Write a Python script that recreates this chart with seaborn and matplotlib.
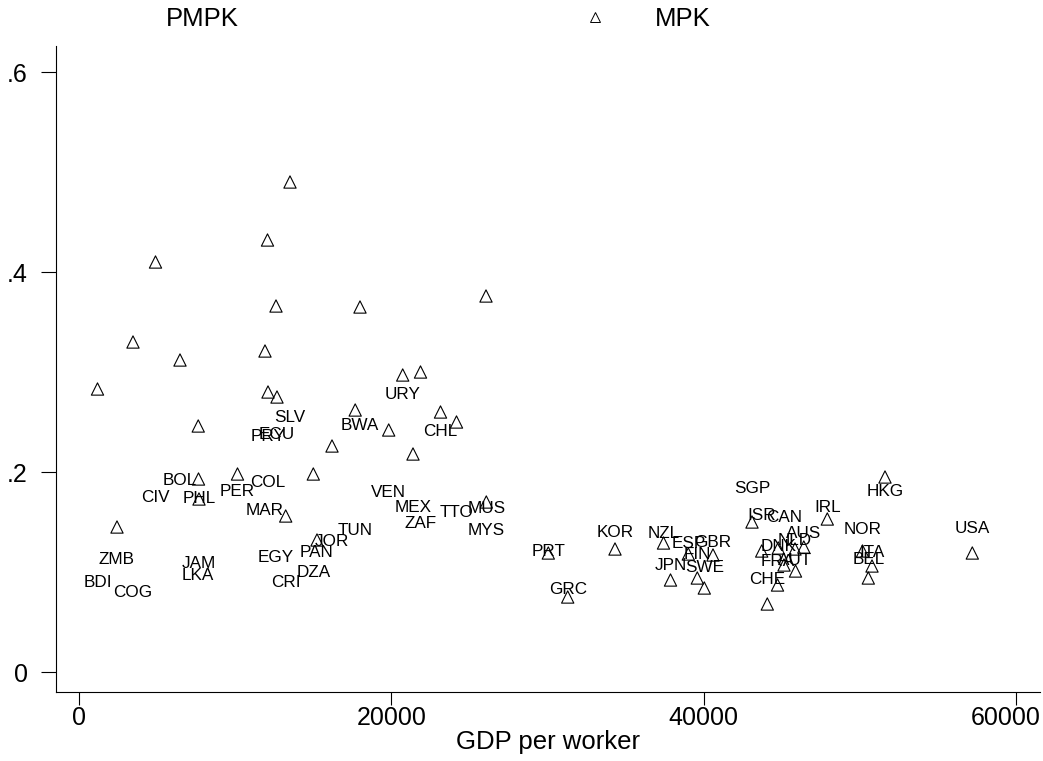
import matplotlib
matplotlib.use("Agg")
import matplotlib.pyplot as plt
from matplotlib.lines import Line2D
from matplotlib.transforms import ScaledTranslation
import seaborn as sns
import pandas as pd

countries = ["BDI", "ZMB", "COG", "CIV", "BOL", "PHL", "JAM", "LKA", "PER", "MAR",
             "COL", "PRY", "EGY", "ECU", "CRI", "SLV", "DZA", "PAN", "JOR", "TUN",
             "BWA", "VEN", "URY", "MEX", "ZAF", "CHL", "TTO", "MUS", "MYS", "PRT",
             "GRC", "KOR", "NZL", "JPN", "ESP", "FIN", "SWE", "GBR", "SGP", "ISR",
             "CHE", "FRA", "DNK", "CAN", "NLD", "AUT", "AUS", "IRL", "NOR", "BEL",
             "ITA", "HKG", "USA"]
gdp_per_worker = [1203, 2451, 3475, 4915, 6483, 7699, 7667, 7650, 10163, 11923,
                  12083, 12115, 12627, 12691, 13248, 13523, 15014, 15251, 16211, 17696,
                  18003, 19840, 20736, 21395, 21875, 23155, 24179, 26086, 26067, 30054,
                  31296, 34323, 37427, 37875, 39014, 39590, 40038, 40595, 43091, 43712,
                  44070, 44723, 44774, 45139, 45843, 45875, 46406, 47910, 50163, 50534,
                  50771, 51603, 57190]
mpk = [0.283, 0.145, 0.330, 0.410, 0.312, 0.173, 0.193, 0.246, 0.198, 0.321,
       0.432, 0.280, 0.366, 0.275, 0.156, 0.490, 0.198, 0.132, 0.226, 0.262,
       0.365, 0.242, 0.297, 0.218, 0.300, 0.260, 0.250, 0.170, 0.376, 0.119,
       0.075, 0.123, 0.129, 0.092, 0.118, 0.094, 0.084, 0.117, 0.150, 0.121,
       0.068, 0.087, 0.124, 0.107, 0.123, 0.101, 0.125, 0.153, 0.121, 0.094,
       0.106, 0.195, 0.119]
pmpk = [0.091, 0.114, 0.081, 0.176, 0.193, 0.175, 0.110, 0.098, 0.182, 0.163,
        0.191, 0.237, 0.116, 0.239, 0.091, 0.256, 0.101, 0.121, 0.132, 0.143,
        0.248, 0.181, 0.279, 0.166, 0.150, 0.242, 0.161, 0.165, 0.143, 0.122,
        0.084, 0.141, 0.140, 0.108, 0.130, 0.119, 0.106, 0.131, 0.185, 0.158,
        0.094, 0.112, 0.127, 0.156, 0.133, 0.113, 0.140, 0.166, 0.144, 0.114,
        0.121, 0.182, 0.145]
xticks = [0, 20000, 40000, 60000]
yticks = [0, 0.2, 0.4, 0.6]
ytick_labels = ["0", ".2", ".4", ".6"]

df = pd.DataFrame({"country": countries, "gdp": gdp_per_worker,
                   "mpk": mpk, "pmpk": pmpk})

sns.set_style("ticks")
plt.rcParams["font.family"] = ["Liberation Sans", "DejaVu Sans"]
plt.rcParams["text.color"] = "black"
plt.rcParams["axes.labelcolor"] = "black"
plt.rcParams["xtick.color"] = "black"
plt.rcParams["ytick.color"] = "black"

fig = plt.figure(figsize=(10.43, 7.61), dpi=100)
ax = fig.add_axes([55.7 / 1043, 1 - 692 / 761, (1040 - 55.7) / 1043, (692 - 46) / 761])

sns.scatterplot(data=df, x="gdp", y="mpk", marker="^", s=78,
                facecolor="none", edgecolor="black", linewidth=0.8,
                ax=ax, zorder=3)
for coll in ax.collections:
    coll.set_facecolor("none")
    coll.set_edgecolor("black")

for name, xv, yv in zip(df["country"], df["gdp"], df["pmpk"]):
    ax.annotate(name, (xv, yv), xytext=(0, -4.4), textcoords="offset points",
                ha="center", va="baseline", fontsize=12.3, color="black")

ax.set_xlim(-1472, 61523)
ax.set_ylim(-0.020, 0.626)
ax.set_xticks(xticks)
ax.set_xticklabels([str(t) for t in xticks])
ax.set_yticks(yticks)
ax.set_yticklabels(ytick_labels)
ax.tick_params(axis="x", labelsize=18, length=9.5, width=0.8, direction="out",
               pad=0.5, labelcolor="black")
ax.tick_params(axis="y", labelsize=18, length=11, width=0.8, direction="out",
               pad=9, labelcolor="black")
last = ax.get_xticklabels()[-1]
last.set_horizontalalignment("right")
last.set_transform(last.get_transform() + ScaledTranslation(0.24, 0, fig.dpi_scale_trans))

ax.set_xlabel("GDP per worker", fontsize=18.5, labelpad=0, color="black")
ax.set_ylabel("")
for side in ["top", "right"]:
    ax.spines[side].set_visible(False)
for side in ["left", "bottom"]:
    ax.spines[side].set_linewidth(0.8)
    ax.spines[side].set_color("black")

handles = [Line2D([], [], linestyle="none", marker=None),
           Line2D([], [], linestyle="none", marker="^", markersize=7,
                  markerfacecolor="none", markeredgecolor="black",
                  markeredgewidth=0.7)]
fig.legend(handles, ["PMPK", "MPK"], ncol=2, frameon=False,
           loc="center left", bbox_to_anchor=(80.6 / 1043, 1 - 19 / 761),
           fontsize=18.5, handlelength=2.0, handletextpad=1.3,
           columnspacing=12.9, borderpad=0, borderaxespad=0)

fig.savefig("out.png", dpi=100)
